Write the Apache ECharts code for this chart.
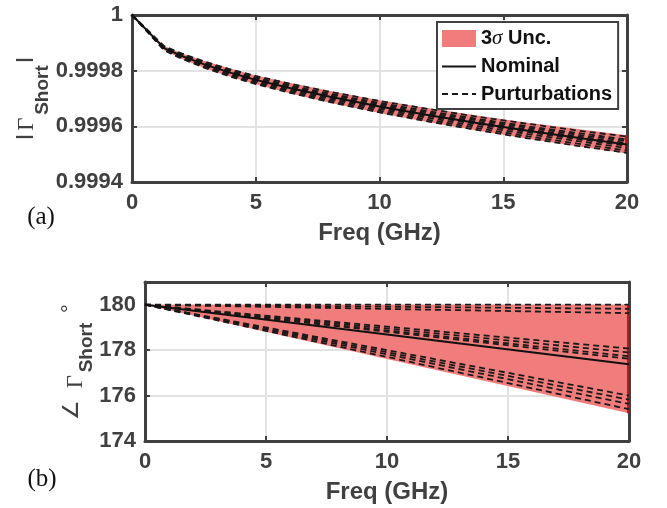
<!DOCTYPE html>
<html><head><meta charset="utf-8">
<script src="https://cdn.jsdelivr.net/npm/echarts@6/dist/echarts.min.js"></script>
<style>html,body{margin:0;padding:0;background:#fff}#c{width:667px;height:508px}</style>
</head><body><div id="c"></div>
<script>
// ---- data (a): |Gamma_short| vs frequency ----
const freqA = [0, 1.3, 2, 3, 4, 5, 6.5, 8, 10, 12, 14, 16, 18, 20];
const magNominal = [1, 0.999881, 0.999853, 0.999820, 0.999792, 0.999767, 0.999735, 0.999706, 0.999671, 0.999640, 0.999611, 0.999584, 0.999559, 0.999535];
const magBandHi  = [1, 0.999889, 0.999863, 0.999833, 0.999807, 0.999783, 0.999754, 0.999727, 0.999694, 0.999665, 0.999638, 0.999613, 0.999590, 0.999568];
const magBandLo  = [1, 0.999873, 0.999843, 0.999807, 0.999777, 0.999751, 0.999716, 0.999685, 0.999648, 0.999615, 0.999584, 0.999555, 0.999528, 0.999502];
const magPert1 = [1, 0.999888, 0.999862, 0.999831, 0.999804, 0.999781, 0.999751, 0.999724, 0.999691, 0.999662, 0.999634, 0.999609, 0.999585, 0.999563];
const magPert2 = [1, 0.999886, 0.999859, 0.999827, 0.999800, 0.999776, 0.999745, 0.999717, 0.999684, 0.999654, 0.999626, 0.999600, 0.999576, 0.999553];
const magPert3 = [1, 0.999884, 0.999857, 0.999825, 0.999797, 0.999773, 0.999742, 0.999714, 0.999680, 0.999649, 0.999621, 0.999595, 0.999570, 0.999547];
const magPert4 = [1, 0.999882, 0.999855, 0.999822, 0.999794, 0.999770, 0.999738, 0.999709, 0.999675, 0.999644, 0.999615, 0.999589, 0.999564, 0.999540];
const magPert5 = [1, 0.999880, 0.999851, 0.999818, 0.999790, 0.999764, 0.999732, 0.999703, 0.999667, 0.999636, 0.999607, 0.999579, 0.999554, 0.999530];
const magPert6 = [1, 0.999878, 0.999849, 0.999815, 0.999786, 0.999760, 0.999728, 0.999698, 0.999662, 0.999630, 0.999600, 0.999572, 0.999547, 0.999522];
const magPert7 = [1, 0.999875, 0.999846, 0.999812, 0.999782, 0.999756, 0.999723, 0.999692, 0.999656, 0.999623, 0.999593, 0.999564, 0.999538, 0.999513];
const magPert8 = [1, 0.999873, 0.999843, 0.999808, 0.999778, 0.999752, 0.999718, 0.999687, 0.999650, 0.999617, 0.999586, 0.999557, 0.999530, 0.999505];
const magPerturbations = [magPert1, magPert2, magPert3, magPert4, magPert5, magPert6, magPert7, magPert8];

// ---- data (b): angle of Gamma_short vs frequency ----
const freqB = [0, 20];
const angNominal = [180, 177.38];
const angBandHi = [180, 180];
const angBandLo = [180, 175.22];
const angPert1 = [180, 180.0];
const angPert2 = [180, 179.82];
const angPert3 = [180, 179.63];
const angPert4 = [180, 178.07];
const angPert5 = [180, 177.90];
const angPert6 = [180, 177.73];
const angPert7 = [180, 177.62];
const angPert8 = [180, 176.00];
const angPert9 = [180, 175.82];
const angPert10 = [180, 175.63];
const angPert11 = [180, 175.40];
const angPerturbations = [angPert1, angPert2, angPert3, angPert4, angPert5, angPert6, angPert7, angPert8, angPert9, angPert10, angPert11];

// ---- tick settings ----
const freqTicks = {min: 0, max: 20, interval: 5};
const magTicks = {min: 0.9994, max: 1, interval: 0.0002};
const angTicks = {min: 174, max: 181, interval: 2};

// ---- styles ----
const BAND = '#F17C7C';
const BAND_EDGE = '#A82222';
const AX = '#404040';
const SANS = 'Liberation Sans';
const SERIF = 'Liberation Serif';

const pairs = (xs, ys) => xs.map((x, i) => [x, ys[i]]);

function xAxisCfg(gridIndex, pos) {
  const primary = pos === 'bottom';
  return {
    type: 'value', gridIndex, position: pos,
    min: freqTicks.min, max: freqTicks.max, interval: freqTicks.interval,
    axisLine: {show: true, onZero: false, lineStyle: {color: AX, width: 3}},
    axisTick: {show: true, inside: true, length: 5, lineStyle: {color: AX, width: 2}},
    axisLabel: {show: primary, margin: 10, color: AX, fontFamily: SANS, fontWeight: 'bold', fontSize: 22},
    splitLine: {show: primary, lineStyle: {color: '#e2e2e2', width: 2}},
    name: primary ? 'Freq (GHz)' : '', nameLocation: 'middle', nameGap: 39,
    nameTextStyle: {color: AX, fontFamily: SANS, fontWeight: 'bold', fontSize: 24}
  };
}
function yAxisCfg(gridIndex, pos, t, fmt) {
  const primary = pos === 'left';
  return {
    type: 'value', gridIndex, position: pos,
    min: t.min, max: t.max, interval: t.interval,
    axisLine: {show: true, onZero: false, lineStyle: {color: AX, width: 3}},
    axisTick: {show: true, inside: true, length: 5, lineStyle: {color: AX, width: 2}},
    axisLabel: {show: primary, margin: 9, color: AX, fontFamily: SANS, fontWeight: 'bold', fontSize: 22, formatter: fmt},
    splitLine: {show: primary, lineStyle: {color: '#e2e2e2', width: 2}}
  };
}

// uncertainty band drawn as a polygon through the axis scales
function bandSeries(xi, yi, xs, lo, hi) {
  return {
    type: 'custom', name: '3σ Unc.', xAxisIndex: xi, yAxisIndex: yi, silent: true, z: 1,
    itemStyle: {color: BAND},
    data: [[xs[0], lo[0]]],
    renderItem: (params, api) => {
      const top = xs.map((x, i) => api.coord([x, hi[i]]));
      const bot = xs.map((x, i) => api.coord([x, lo[i]])).reverse();
      const n = xs.length - 1;
      const e1 = api.coord([xs[n], hi[n]]);
      const e2 = api.coord([xs[n], lo[n]]);
      return {type: 'group', children: [
        {type: 'polygon', shape: {points: top.concat(bot)}, style: {fill: BAND, stroke: null}},
        {type: 'line', shape: {x1: e1[0] - 1, y1: e1[1], x2: e2[0] - 1, y2: e2[1]}, style: {stroke: BAND_EDGE, lineWidth: 2}}
      ]};
    }
  };
}
function pertSeries(xi, yi, xs, ys) {
  return {type: 'line', xAxisIndex: xi, yAxisIndex: yi, name: 'Purturbations', data: pairs(xs, ys),
    symbol: 'none', itemStyle: {color: '#1a1a1a'},
    lineStyle: {color: '#1a1a1a', width: 1.8, type: [6, 4]}, z: 3, silent: true};
}
function nomSeries(xi, yi, xs, ys) {
  return {type: 'line', xAxisIndex: xi, yAxisIndex: yi, name: 'Nominal', data: pairs(xs, ys),
    symbol: 'none', itemStyle: {color: '#111'},
    lineStyle: {color: '#111', width: 2}, z: 4, silent: true};
}

const series = [
  bandSeries(0, 0, freqA, magBandLo, magBandHi),
  ...magPerturbations.map(p => pertSeries(0, 0, freqA, p)),
  nomSeries(0, 0, freqA, magNominal),
  bandSeries(1, 1, freqB, angBandLo, angBandHi),
  ...angPerturbations.map(p => pertSeries(1, 1, freqB, p)),
  nomSeries(1, 1, freqB, angNominal)
];

function rotText(x, y, text, size, family, weight) {
  return {type: 'text', x, y, rotation: Math.PI / 2, silent: true,
    style: {text, fontSize: size, fontFamily: family, fontWeight: weight || 'normal', fill: AX,
      align: 'center', verticalAlign: 'middle'}};
}
function plainText(x, y, text, size, family) {
  return {type: 'text', x, y, silent: true,
    style: {text, fontSize: size, fontFamily: family, fill: '#111', align: 'center', verticalAlign: 'middle'}};
}

const option = {
  animation: false,
  backgroundColor: '#fff',
  grid: [
    {left: 132, top: 15, width: 495, height: 167},
    {left: 145, top: 282, width: 484, height: 159}
  ],
  xAxis: [xAxisCfg(0, 'bottom'), xAxisCfg(1, 'bottom'), xAxisCfg(0, 'top'), xAxisCfg(1, 'top')],
  yAxis: [
    yAxisCfg(0, 'left', magTicks, v => (v > 0.99999 ? '1' : v.toFixed(4))),
    yAxisCfg(1, 'left', angTicks, v => (v > 180.5 ? '' : String(Math.round(v)))),
    yAxisCfg(0, 'right', magTicks),
    yAxisCfg(1, 'right', angTicks)
  ],
  legend: {
    left: 437, top: 22, orient: 'vertical',
    backgroundColor: '#fff', borderColor: AX, borderWidth: 2, borderRadius: 0,
    padding: [6, 6, 5, 4], itemGap: 7.5, itemWidth: 34, itemHeight: 17,
    selectedMode: false,
    textStyle: {fontFamily: SANS, fontWeight: 'bold', fontSize: 20, color: '#111', lineHeight: 17,
      rich: {s: {fontFamily: SERIF, fontStyle: 'italic', fontWeight: 'normal', fontSize: 21, color: '#111', lineHeight: 17}}},
    data: [
      {name: '3σ Unc.', icon: 'rect', itemStyle: {color: BAND, borderWidth: 0}},
      {name: 'Nominal', itemStyle: {opacity: 0}},
      {name: 'Purturbations', itemStyle: {opacity: 0}}
    ],
    formatter: n => (n === '3σ Unc.' ? '3{s|σ} Unc.' : n)
  },
  graphic: [
    rotText(24.5, 137, '|', 18, SANS, 'bold'),
    rotText(26.5, 124, 'Γ', 23, SERIF, 'normal'),
    rotText(43, 90, 'Short', 19, SANS, 'bold'),
    rotText(24.5, 60, '|', 18, SANS, 'bold'),
    rotText(72, 410, '∠', 22, SERIF, 'normal'),
    rotText(75.5, 381.5, 'Γ', 23, SERIF, 'normal'),
    rotText(86.5, 347.5, 'Short', 19, SANS, 'bold'),
    rotText(71, 308.5, '°', 22, SANS, 'normal'),
    plainText(41, 217, '(a)', 25, SERIF),
    plainText(42, 479, '(b)', 25, SERIF)
  ],
  series
};
const chart = echarts.init(document.getElementById('c'));
chart.setOption(option);
</script>
</body></html>
